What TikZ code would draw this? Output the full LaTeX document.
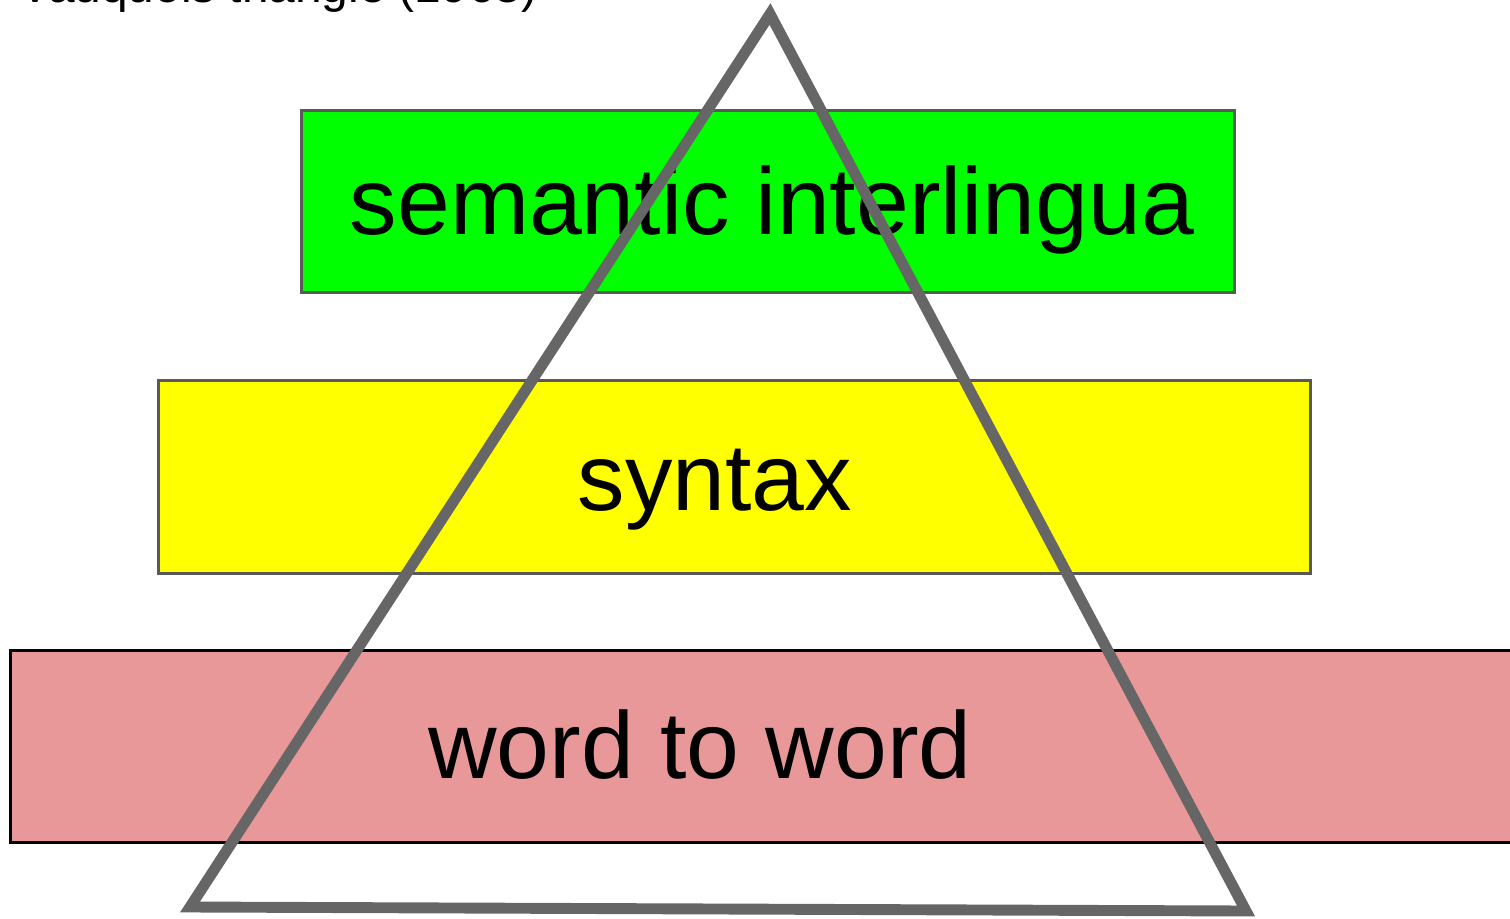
\documentclass[tikz,border=0pt]{standalone}
\usepackage{fontspec}
\setmainfont{Liberation Sans}
\usepackage{xcolor}
\definecolor{bandgreen}{HTML}{00FF00}
\definecolor{bandyellow}{HTML}{FFFF00}
\definecolor{bandpink}{HTML}{E89898}
\definecolor{edgegray}{HTML}{595959}
\definecolor{trigray}{HTML}{666666}
\begin{document}
\begin{tikzpicture}[x=0.01cm,y=-0.01cm,
        band/.style={draw=edgegray,line width=0.85pt,inner sep=0pt},
        bandtext/.style={anchor=base,inner sep=0pt,font=\fontsize{27}{30}\selectfont}]
        \clip (0,0) rectangle (1510,919);
        \useasboundingbox (0,0) rectangle (1510,919);

        % title, cut off at the top
        \node[anchor=base west,inner sep=0pt,font=\fontsize{13.6}{16}\selectfont] (title) at (19,3) {Vauquois triangle (1968)};

        % the three levels
        \node[band,fill=bandgreen,minimum width=9.32cm,minimum height=1.81cm] (semantic) at (768,201.5) {};
        \node[band,fill=bandyellow,minimum width=11.51cm,minimum height=1.92cm] (syntax) at (734.5,477) {};
        \node[band,draw=black,fill=bandpink,minimum width=15.1cm,minimum height=1.91cm] (word) at (766,746.5) {};

        \node[bandtext] (semantictext) at (772,235) {semantic interlingua};
        \node[bandtext] (syntaxtext) at (715,510) {syntax};
        \node[bandtext] (wordtext) at (700,778) {word to word};

        % triangle on top
        \coordinate (apex) at (770,14);
        \coordinate (left) at (190,907);
        \coordinate (right) at (1246,911);
        \draw[trigray,line width=3.1pt,line join=miter] (apex) -- (left) -- (right) -- cycle;
    \end{tikzpicture}
\end{document}
